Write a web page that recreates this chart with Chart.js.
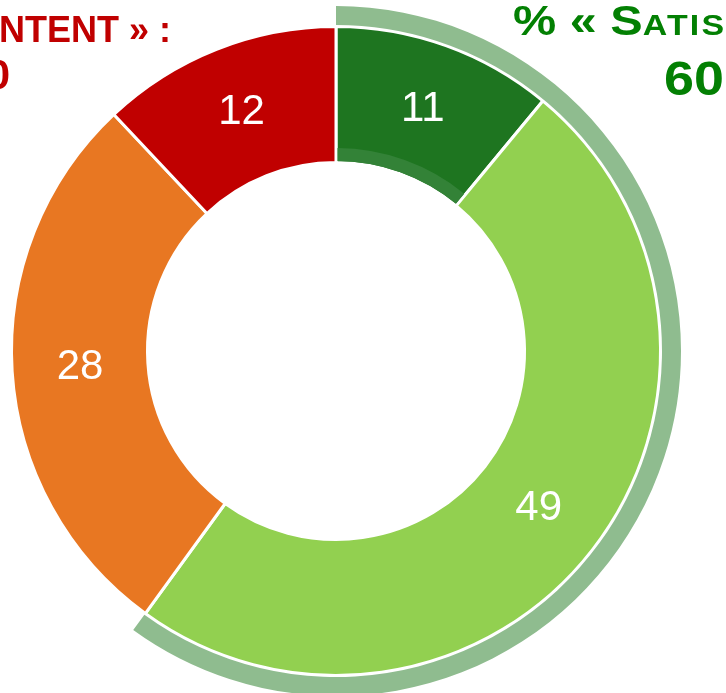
<!DOCTYPE html>
<html lang="fr">
<head>
<meta charset="utf-8">
<title>Satisfaction</title>
<script src="https://cdn.jsdelivr.net/npm/chart.js@4.4.0/dist/chart.umd.min.js"></script>
<style>
  html, body { margin: 0; padding: 0; background: #fff; }
  #stage { position: relative; width: 726px; height: 693px; overflow: hidden; }
  #chartBox { position: absolute; left: -9px; top: 6px; width: 690px; height: 690px; }
  .caption { position: absolute; font-family: "Liberation Sans", Arial, sans-serif; font-weight: bold; white-space: nowrap; line-height: 1; }
  .sat { color: #038003; transform-origin: left top; transform: scaleX(1.13); }
  .mec { color: #c00000; text-align: right; }
  #satTitle { left: 513px; top: -1px; font-size: 43px; font-variant: small-caps; }
  #satTitle span { letter-spacing: 2px; }
  #satValue { left: 664px; top: 54px; font-size: 49px; transform: scaleX(1.1); }
  #mecTitle { right: 555px; top: 12px; font-size: 36px; }
  #mecValue { right: 716px; top: 54px; font-size: 42px; }
</style>
</head>
<body>
<div id="stage">
  <div id="chartBox"><canvas id="donut"></canvas></div>
  <div id="mecTitle" class="caption mec">% « MÉCONTENT » :</div>
  <div id="mecValue" class="caption mec"></div>
  <div id="satTitle" class="caption sat">% « S<span>atisfait</span> » :</div>
  <div id="satValue" class="caption sat"></div>
</div>
<script>
// slice values, read clockwise from the top
const categories = ['Très satisfait', 'Plutôt satisfait', 'Plutôt mécontent', 'Très mécontent'];
const values = [11, 49, 28, 12];
// satisfied / dissatisfied totals
const groupLabels = ['Satisfait', 'Mécontent'];
const groupTotals = [60, 40];

const sliceColors = ['#1e7520', '#92d050', '#e87722', '#c00000'];
const haloColor = '#8fbc8f';
const bandColor = '#338237';

document.getElementById('satValue').textContent = groupTotals[0];
document.getElementById('mecValue').textContent = groupTotals[1];

// lighter inner band on the first slice
const innerBand = {
  id: 'innerBand',
  afterDatasetsDraw(chart) {
    const arc = chart.getDatasetMeta(2).data[0];
    const { x, y, startAngle, endAngle, innerRadius } =
      arc.getProps(['x', 'y', 'startAngle', 'endAngle', 'innerRadius'], true);
    const r0 = innerRadius + 1.5;
    const r1 = innerRadius + 14.5;
    const ctx = chart.ctx;
    ctx.save();
    ctx.beginPath();
    ctx.arc(x, y, r1, startAngle + 1.5 / r1, endAngle - 1.5 / r1);
    ctx.arc(x, y, r0, endAngle - 1.5 / r0, startAngle + 1.5 / r0, true);
    ctx.closePath();
    ctx.fillStyle = bandColor;
    ctx.fill();
    ctx.restore();
  }
};

// value in the middle of each slice
const sliceLabels = {
  id: 'sliceLabels',
  afterDatasetsDraw(chart) {
    const ctx = chart.ctx;
    const meta = chart.getDatasetMeta(2);
    ctx.save();
    ctx.font = '42px "Liberation Sans", Arial, sans-serif';
    ctx.fillStyle = '#fff';
    ctx.textAlign = 'center';
    ctx.textBaseline = 'middle';
    meta.data.forEach((arc, i) => {
      const p = arc.tooltipPosition(true);
      ctx.fillText(String(values[i]), p.x, p.y);
    });
    ctx.restore();
  }
};

new Chart(document.getElementById('donut'), {
  type: 'doughnut',
  data: {
    labels: categories,
    datasets: [
      {
        label: 'halo',
        data: groupTotals,
        backgroundColor: [haloColor, 'rgba(0,0,0,0)'],
        borderWidth: 0, hoverBorderWidth: 0, hoverOffset: 0,
        weight: 19
      },
      {
        label: 'gap',
        data: groupTotals,
        backgroundColor: 'rgba(0,0,0,0)',
        borderWidth: 0, hoverBorderWidth: 0, hoverOffset: 0,
        weight: 1.5
      },
      {
        label: 'Satisfaction',
        data: values,
        backgroundColor: sliceColors,
        borderColor: '#fff',
        borderWidth: 3, hoverBorderWidth: 3, hoverOffset: 0,
        weight: 136
      }
    ]
  },
  options: {
    responsive: true,
    maintainAspectRatio: false,
    animation: false,
    events: [],
    cutout: '54.64%',
    layout: { padding: 0 },
    plugins: { legend: { display: false }, tooltip: { enabled: false } }
  },
  plugins: [innerBand, sliceLabels]
});
</script>
</body>
</html>
